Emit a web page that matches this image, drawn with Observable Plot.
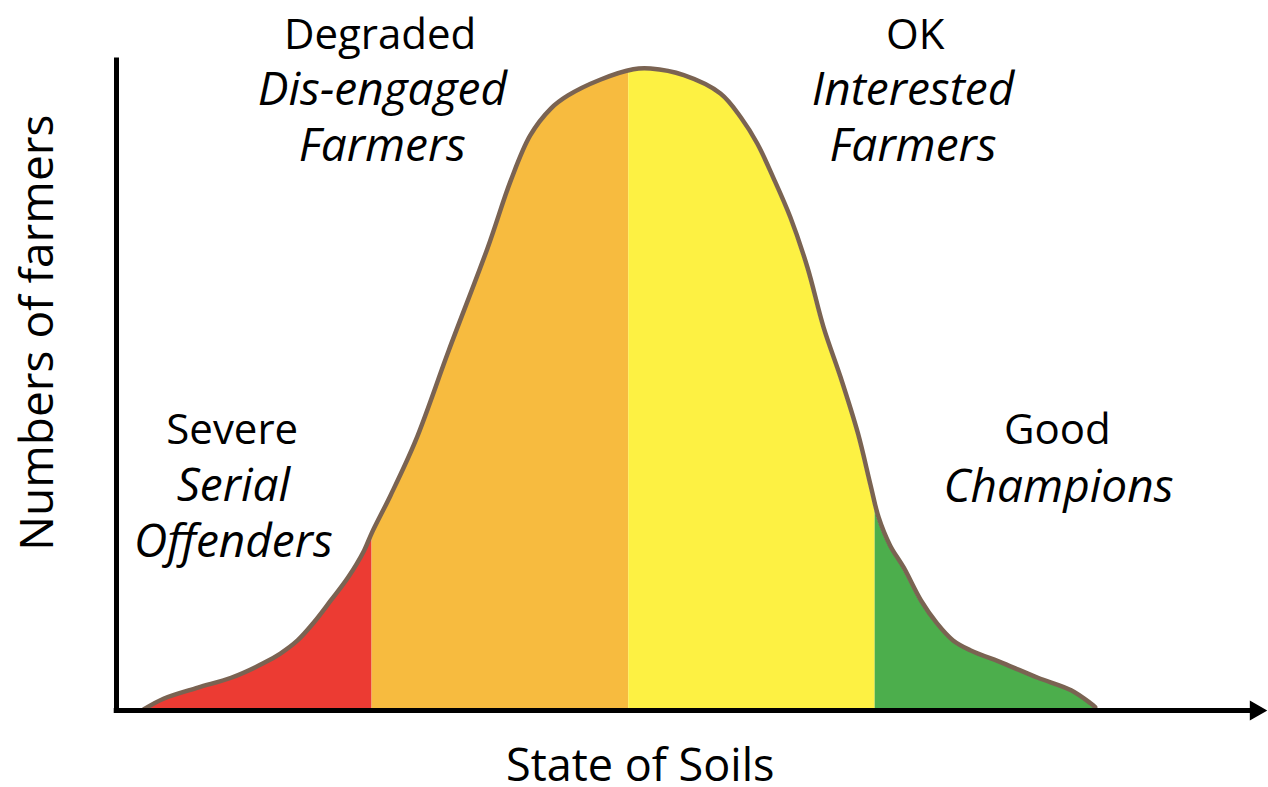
<!DOCTYPE html>
<html>
<head>
<meta charset="utf-8">
<script src="https://cdn.jsdelivr.net/npm/d3@7"></script>
<script src="https://cdn.jsdelivr.net/npm/@observablehq/plot@0.6"></script>
<style>
  html, body { margin: 0; padding: 0; background: #fff; overflow: hidden; }
  #chart svg { display: block; }
</style>
</head>
<body>
<div id="chart"></div>
<script>
// ---- Data (arbitrary 0–100 units) ----
const soilState = [2.4, 4.1, 7.1, 10.0, 12.8, 14.3, 15.8, 17.2, 18.7, 20.2, 21.6, 22.3, 23.9, 26.1,
  29.0, 32.4, 34.4, 36.1, 37.9, 39.4, 42.2, 45.1, 46.6, 49.5, 52.7, 54.5, 55.9, 57.3, 58.8, 60.3,
  61.7, 63.2, 64.7, 65.8, 66.5, 67.5, 68.7, 70.2, 71.6, 73.0, 74.5, 77.4, 80.4, 83.3, 85.0, 85.4];
const farmers = [0.2, 1.8, 3.5, 5.0, 7.2, 8.7, 10.7, 13.4, 16.8, 20.3, 24.4, 27.2, 32.8, 41.2,
  55.0, 70.7, 80.9, 87.8, 91.9, 93.9, 96.3, 97.9, 98.0, 97.0, 94.2, 90.5, 86.6, 81.4, 75.3, 67.6,
  58.5, 50.8, 42.3, 34.4, 29.5, 25.2, 21.8, 16.8, 13.3, 10.7, 9.2, 7.2, 5.0, 3.1, 1.1, 0.5];

const regionNames = ["Severe", "Degraded", "OK", "Good"];
const regionGroups = ["Serial\nOffenders", "Dis-engaged\nFarmers", "Interested\nFarmers", "Champions"];
const regionStart = [2.4, 22.3, 44.7, 66.2];
const regionEnd = [22.3, 44.7, 66.2, 85.4];

const xTitle = "State of Soils";
const yTitle = "Numbers of farmers";

// ---- Styling / placement (not data) ----
const regionColors = ["#ec3b33", "#f7bb3f", "#fdf143", "#4cae4c"];
const nameX = [10.1, 23.0, 69.7, 82.1];
const nameY = [42.7, 103.0, 103.0, 42.7];
const groupX = [10.2, 23.2, 69.5, 82.2];
const groupY = [30.4, 90.9, 90.9, 34.5];

const curve = soilState.map((x, i) => ({x, y: farmers[i]}));
const bands = regionNames.map((name, i) => ({
  name, x1: regionStart[i], x2: regionEnd[i], color: regionColors[i]
}));
const labels = regionNames.map((name, i) => ({
  name, group: regionGroups[i], nx: nameX[i], ny: nameY[i], gx: groupX[i], gy: groupY[i]
}));

const FONT = "'Open Sans', 'Noto Sans', sans-serif";

const chart = Plot.plot({
  width: 1268,
  height: 787,
  marginLeft: 116,
  marginRight: 6,
  marginTop: 55,
  marginBottom: 77,
  style: {background: "white", fontFamily: FONT, overflow: "visible"},
  x: {domain: [0, 100], axis: null},
  y: {domain: [0, 100], axis: null},
  marks: [
    // colored bands, masked above the curve
    Plot.rectY(bands, {x1: "x1", x2: "x2", y1: 0, y2: 100, fill: "color"}),
    Plot.areaY(curve, {x: "x", y1: "y", y2: 100.5, fill: "white", stroke: "white", strokeWidth: 3, curve: "catmull-rom"}),
    // outline of the bell curve
    Plot.line(curve, {x: "x", y: "y", stroke: "#7a6352", strokeWidth: 4.5, curve: "catmull-rom"}),
    // axes
    Plot.ruleX([0], {y1: -0.4, y2: 99.6, stroke: "black", strokeWidth: 5}),
    Plot.ruleY([0], {x1: -0.2, x2: 99.0, stroke: "black", strokeWidth: 5}),
    Plot.dot([{x: 99.4, y: 0}], {x: "x", y: "y", symbol: "triangle", rotate: 90, r: 6.5, fill: "black", stroke: "black"}),
    // region labels
    Plot.text(labels, {x: "nx", y: "ny", text: "name", fontSize: 42, fill: "black", fontFamily: FONT}),
    Plot.text(labels, {x: "gx", y: "gy", text: "group", fontSize: 46, fontStyle: "italic",
      lineHeight: 1.22, fill: "black", fontFamily: FONT}),
    // axis titles
    Plot.text([yTitle], {x: -6.8, y: 57.7, text: d => d, rotate: -90, fontSize: 46, fill: "black", fontFamily: FONT}),
    Plot.text([xTitle], {x: 45.7, y: -8.6, text: d => d, fontSize: 45, fill: "black", fontFamily: FONT})
  ]
});

document.getElementById("chart").appendChild(chart);
</script>
</body>
</html>
